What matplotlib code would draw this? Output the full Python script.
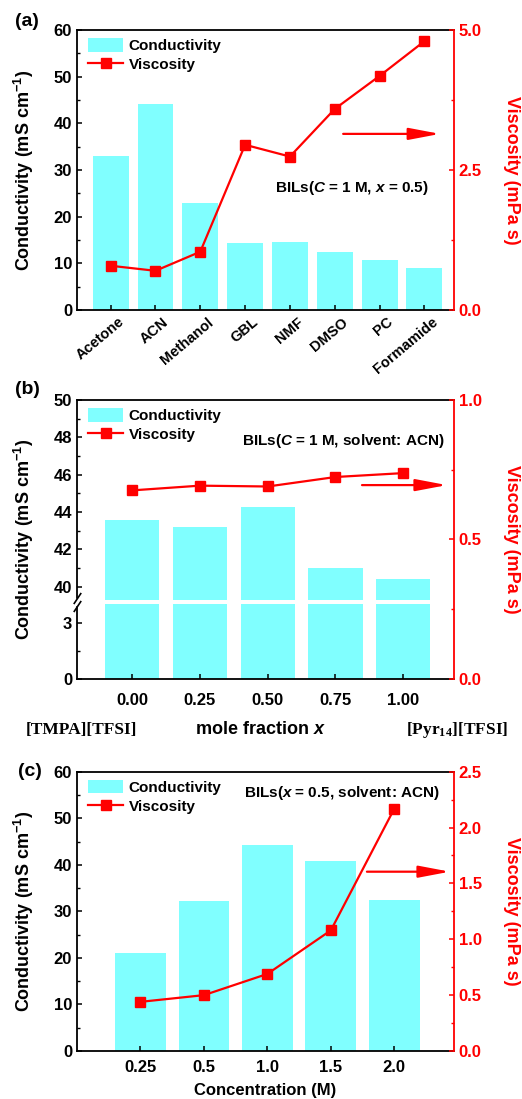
import numpy as np
import matplotlib
matplotlib.use('Agg')
import matplotlib.pyplot as plt
from matplotlib.ticker import FixedLocator, MultipleLocator, FormatStrFormatter
from matplotlib.patches import Patch, ArrowStyle
from matplotlib.lines import Line2D
import matplotlib.transforms as mtransforms

# ---------------- data ----------------
solvents = ['Acetone', 'ACN', 'Methanol', 'GBL', 'NMF', 'DMSO', 'PC', 'Formamide']
cond_a = [33.1, 44.2, 22.9, 14.4, 14.6, 12.5, 10.7, 9.0]
visc_a = [0.79, 0.70, 1.04, 2.95, 2.74, 3.59, 4.18, 4.80]

x_frac = [0.00, 0.25, 0.50, 0.75, 1.00]
x_frac_labels = ['0.00', '0.25', '0.50', '0.75', '1.00']
cond_b = [43.6, 43.2, 44.3, 41.0, 40.4]
visc_b = [0.676, 0.693, 0.690, 0.724, 0.738]

conc_labels = ['0.25', '0.5', '1.0', '1.5', '2.0']
cond_c = [21.1, 32.2, 44.3, 40.8, 32.4]
visc_c = [0.44, 0.50, 0.69, 1.08, 2.17]

# ---------------- style ----------------
plt.rcParams.update({
    'font.family': ['Liberation Sans', 'DejaVu Sans'],
    'font.weight': 'bold',
    'axes.labelweight': 'bold',
    'mathtext.fontset': 'custom',
    'mathtext.rm': 'Liberation Sans:bold',
    'mathtext.it': 'Liberation Sans:italic:bold',
    'mathtext.bf': 'Liberation Sans:bold',
    'mathtext.sf': 'Liberation Serif:bold',
    'xtick.direction': 'in',
    'ytick.direction': 'in',
    'xtick.major.size': 3.5,
    'ytick.major.size': 3.5,
    'xtick.minor.size': 2.0,
    'ytick.minor.size': 2.0,
    'xtick.major.width': 1.1,
    'ytick.major.width': 1.1,
    'ytick.minor.width': 1.0,
    'axes.linewidth': 1.3,
    'xtick.labelsize': 12,
    'ytick.labelsize': 12,
    'axes.labelsize': 13,
})

BAR = '#80FFFF'
RED = '#FF0000'
W, H = 522, 1099
fig = plt.figure(figsize=(W / 100, H / 100), dpi=100)

def axes_px(top, bottom, left=77, right=454):
    return fig.add_axes([left / W, 1 - bottom / H, (right - left) / W, (bottom - top) / H])

ax_a = axes_px(30, 310)
ax_b = axes_px(400, 679)
ax_c = axes_px(771.7, 1051)


def style_pair(ax, ax2):
    ax.spines['right'].set_visible(False)
    ax.tick_params(axis='both', which='both', right=False, top=False)
    for s in ['left', 'top', 'bottom']:
        ax2.spines[s].set_visible(False)
    ax2.spines['right'].set_color(RED)
    ax2.tick_params(axis='y', which='both', colors=RED)
    ax2.yaxis.label.set_color(RED)
    ax.set_ylabel('Conductivity (mS cm$^{-1}$)', va='center')
    ax.yaxis.set_label_coords(-0.14, 0.5)
    ax2.set_ylabel('Viscosity (mPa s)', rotation=270, va='center', color=RED)
    ax2.yaxis.set_label_coords(1.152, 0.5)


def legend(ax2, bar_h, line_h):
    ax2.legend([bar_h, line_h], ['Conductivity', 'Viscosity'], loc='upper left',
               bbox_to_anchor=(11 / 377, 1 - 8 / 280), borderaxespad=0, borderpad=0,
               frameon=False, fontsize=11, handlelength=2.3, handleheight=1.0,
               handletextpad=0.35, labelspacing=0.25)


def arrow(ax2, x0, x1, y):
    ax2.annotate('', xy=(x1, y), xytext=(x0, y), xycoords='axes fraction',
                 arrowprops=dict(arrowstyle=ArrowStyle('-|>', head_length=1.9, head_width=0.36),
                                 color=RED, lw=1.6, shrinkA=0, shrinkB=0, mutation_scale=10))

# ---------------- (a) ----------------
xa = np.arange(len(solvents))
bars = ax_a.bar(xa, cond_a, width=0.8, color=BAR, zorder=1)
ax_a.set_xlim(-0.75, 7.66)
ax_a.set_ylim(0, 60)
ax_a.yaxis.set_major_locator(MultipleLocator(10))
ax_a.yaxis.set_minor_locator(MultipleLocator(5))
ax_a.set_xticks(xa)
ax_a.set_xticklabels(solvents, rotation=40, ha='right', va='top', fontsize=10.5)
off = mtransforms.ScaledTranslation(16 / 100, 0, fig.dpi_scale_trans)
for lbl in ax_a.get_xticklabels():
    lbl.set_transform(lbl.get_transform() + off)
ax2a = ax_a.twinx()
ln, = ax2a.plot(xa, visc_a, '-s', color=RED, lw=1.6, ms=7)
ax2a.set_ylim(0, 5)
ax2a.yaxis.set_major_locator(FixedLocator([0, 2.5, 5.0]))
ax2a.yaxis.set_minor_locator(FixedLocator([1.25, 3.75]))
ax2a.yaxis.set_major_formatter(FormatStrFormatter('%.1f'))
style_pair(ax_a, ax2a)
legend(ax2a, bars, ln)
arrow(ax2a, 0.706, 0.963, 0.629)
ax2a.text(0.729, 0.436, r'BILs($\mathit{C}$ = 1 M, $\mathit{x}$ = 0.5)', transform=ax2a.transAxes,
          ha='center', va='center', fontsize=11)

# ---------------- (b) ----------------
lo_top, hi_bot = 4.0, 39.3
gap = 0.23

def fwd(y):
    y = np.asarray(y, dtype=float)
    return np.where(y <= lo_top, y,
                    np.where(y >= hi_bot, lo_top + gap + (y - hi_bot),
                             lo_top + (y - lo_top) * gap / (hi_bot - lo_top)))

def inv(d):
    d = np.asarray(d, dtype=float)
    return np.where(d <= lo_top, d,
                    np.where(d >= lo_top + gap, hi_bot + (d - lo_top - gap),
                             lo_top + (d - lo_top) * (hi_bot - lo_top) / gap))

ax_b.set_yscale('function', functions=(fwd, inv))
bars = ax_b.bar(x_frac, cond_b, width=0.2, color=BAR, zorder=1)
ax_b.axhspan(lo_top, hi_bot, color='white', zorder=1.5, lw=0)
ax_b.set_ylim(0, 50)
ax_b.set_xlim(-0.203, 1.187)
ax_b.yaxis.set_major_locator(FixedLocator([0, 3, 40, 42, 44, 46, 48, 50]))
ax_b.yaxis.set_minor_locator(FixedLocator([1.5, 41, 43, 45, 47, 49]))
ax_b.yaxis.set_major_formatter(FormatStrFormatter('%d'))
ax_b.yaxis.set_minor_formatter(plt.NullFormatter())
ax_b.set_xticks(x_frac)
ax_b.set_xticklabels(x_frac_labels)
ax_b.tick_params(axis='x', pad=10)
yt = ax_b.get_yaxis_transform()
ax_b.plot([0, 0], [lo_top + 0.05, hi_bot - 0.05], color='white', lw=2.5, transform=yt,
          clip_on=False, zorder=4)
ax_b.plot([0, 0], [lo_top - 0.1, hi_bot + 0.1], ls='none', marker=[(-1, -1.5), (1, 1.5)],
          ms=8, mew=1.2, color='black', transform=yt, clip_on=False, zorder=5)
ax2b = ax_b.twinx()
ln, = ax2b.plot(x_frac, visc_b, '-s', color=RED, lw=1.6, ms=7)
ax2b.set_ylim(0, 1.0)
ax2b.yaxis.set_major_locator(FixedLocator([0, 0.5, 1.0]))
ax2b.yaxis.set_minor_locator(FixedLocator([0.25, 0.75]))
ax2b.yaxis.set_major_formatter(FormatStrFormatter('%.1f'))
style_pair(ax_b, ax2b)
legend(ax2b, bars, ln)
arrow(ax2b, 0.756, 0.981, 0.695)
ax2b.text(0.705, 0.853, r'BILs($\mathit{C}$ = 1 M, solvent: ACN)', transform=ax2b.transAxes,
          ha='center', va='center', fontsize=11)
ax_b.text(0.485, -0.182, r'mole fraction $\mathit{x}$', transform=ax_b.transAxes,
          ha='center', va='center', fontsize=13)
ax_b.text(0.0106, -0.182, '[TMPA][TFSI]', transform=ax_b.transAxes, ha='center', va='center',
          fontsize=12.5, family='Liberation Serif', fontweight='bold')
ax_b.text(1.008, -0.182, r'[Pyr$_{\mathsf{14}}$][TFSI]', transform=ax_b.transAxes, ha='center',
          va='center', fontsize=12.5, family='Liberation Serif', fontweight='bold')

# ---------------- (c) ----------------
xc = np.arange(len(conc_labels))
bars = ax_c.bar(xc, cond_c, width=0.8, color=BAR, zorder=1)
ax_c.set_xlim(-1.0, 4.94)
ax_c.set_ylim(0, 60)
ax_c.yaxis.set_major_locator(MultipleLocator(10))
ax_c.yaxis.set_minor_locator(MultipleLocator(5))
ax_c.set_xticks(xc)
ax_c.set_xticklabels(conc_labels)
ax_c.tick_params(axis='x', pad=6.5)
ax_c.set_xlabel('Concentration (M)', fontsize=12, labelpad=6)
ax2c = ax_c.twinx()
ln, = ax2c.plot(xc, visc_c, '-s', color=RED, lw=1.6, ms=7)
ax2c.set_ylim(0, 2.5)
ax2c.yaxis.set_major_locator(MultipleLocator(0.5))
ax2c.yaxis.set_minor_locator(MultipleLocator(0.25))
ax2c.yaxis.set_major_formatter(FormatStrFormatter('%.1f'))
style_pair(ax_c, ax2c)
legend(ax2c, bars, ln)
arrow(ax2c, 0.769, 0.989, 0.642)
ax2c.text(0.703, 0.923, r'BILs($\mathit{x}$ = 0.5, solvent: ACN)', transform=ax2c.transAxes,
          ha='center', va='center', fontsize=11)

# panel labels
for lab, (px, py) in zip(['(a)', '(b)', '(c)'], [(27, 22), (27, 390), (30, 771)]):
    fig.text(px / W, 1 - py / H, lab, ha='center', va='center', fontsize=14, fontweight='bold')

fig.savefig('out.png', dpi=100)
